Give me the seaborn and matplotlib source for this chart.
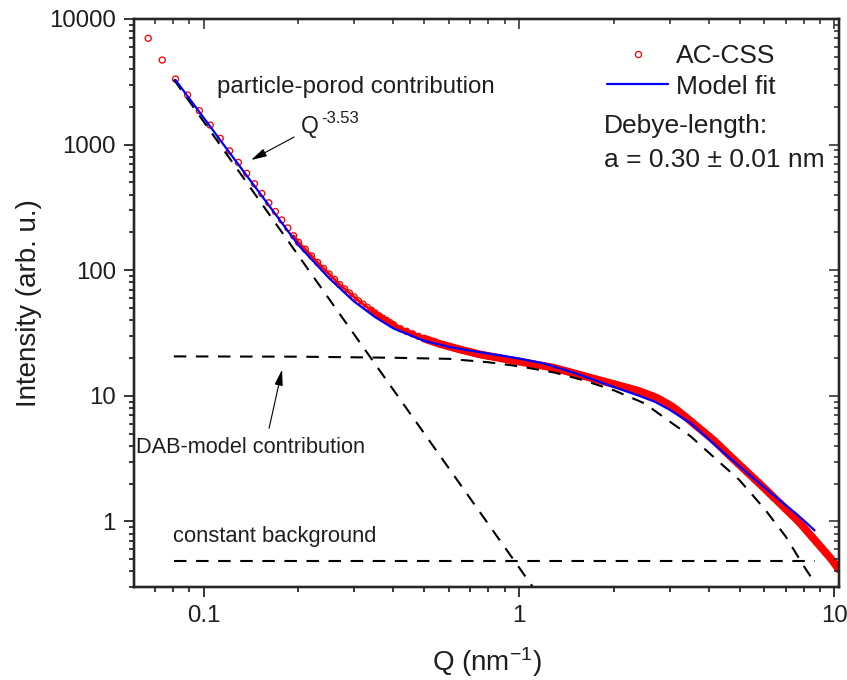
import matplotlib
matplotlib.use("Agg")
import matplotlib.pyplot as plt
import seaborn as sns
from matplotlib.lines import Line2D
from matplotlib.ticker import LogLocator, NullFormatter, FuncFormatter

# ---------------- data ----------------
# measured SAXS curve (AC-CSS)
q_data = [0.0668, 0.0740, 0.0815, 0.089, 0.097, 0.105, 0.113, 0.121, 0.129, 0.137,
          0.145, 0.153, 0.161, 0.169, 0.177, 0.185, 0.193,
          0.20, 0.21, 0.22, 0.23, 0.24, 0.25, 0.26, 0.27, 0.28, 0.29, 0.30, 0.31,
          0.32, 0.33, 0.34, 0.35, 0.36, 0.37, 0.38, 0.39, 0.40,
          0.42, 0.44, 0.46, 0.48, 0.50, 0.52, 0.54, 0.56, 0.58, 0.60, 0.62, 0.64,
          0.66, 0.68, 0.70, 0.72, 0.74, 0.76, 0.78, 0.80,
          0.84, 0.88, 0.92, 0.96, 1.00, 1.04, 1.08, 1.12, 1.16, 1.20, 1.24, 1.28,
          1.32, 1.36, 1.40, 1.44, 1.48, 1.52, 1.56, 1.60,
          1.68, 1.76, 1.84, 1.92, 2.00, 2.08, 2.16, 2.24, 2.32, 2.40, 2.48, 2.56,
          2.64, 2.72, 2.80, 2.88, 2.96, 3.04, 3.12, 3.20,
          3.36, 3.52, 3.68, 3.84, 4.00, 4.16, 4.32, 4.48, 4.64, 4.80, 4.96, 5.12,
          5.28, 5.44, 5.60, 5.76, 5.92, 6.08, 6.24, 6.40,
          6.7, 7.0, 7.3, 7.6, 7.9, 8.2, 8.5, 8.8, 9.1, 9.4, 9.7, 10.0, 10.3]
i_data = [7020, 4710, 3325, 2481, 1863, 1431, 1120, 891, 721, 590,
          488, 408, 344, 293, 251, 217, 188,
          166.9, 147.0, 129.8, 115.4, 103.5, 93.4, 84.6, 76.9, 71.0, 65.9, 61.3, 57.0,
          53.7, 50.8, 48.2, 45.7, 43.4, 41.5, 39.9, 38.3, 36.9,
          34.25, 32.66, 31.13, 29.74, 28.61, 27.63, 26.79, 25.92, 25.30, 24.71, 24.17, 23.64,
          23.17, 22.75, 22.34, 21.93, 21.58, 21.26, 20.99, 20.76,
          20.30, 19.86, 19.46, 19.11, 18.76, 18.42, 18.12, 17.82, 17.53, 17.28, 17.02, 16.78,
          16.44, 16.12, 15.79, 15.50, 15.22, 14.94, 14.67, 14.43,
          13.94, 13.51, 13.12, 12.74, 12.40, 12.06, 11.75, 11.46, 11.19, 10.92, 10.58, 10.28,
          9.98, 9.69, 9.33, 8.96, 8.62, 8.29, 7.92, 7.54,
          6.84, 6.22, 5.66, 5.19, 4.76, 4.38, 4.00, 3.665, 3.369, 3.108, 2.872, 2.669,
          2.480, 2.313, 2.158, 2.020, 1.890, 1.776, 1.665, 1.565,
          1.402, 1.258, 1.135, 1.030, 0.928, 0.832, 0.751, 0.679, 0.616, 0.561, 0.513, 0.464, 0.417]

# model fit
q_fit = [0.0815, 0.1, 0.12, 0.15, 0.2, 0.25, 0.3, 0.35, 0.4, 0.5, 0.6, 0.7, 0.8, 1.0,
         1.2, 1.5, 1.8, 2.1, 2.4, 2.7, 3.0, 3.5, 4.0, 4.5, 5.0, 5.5, 6.0, 6.5, 7.0,
         7.5, 8.0, 8.65]
i_fit = [3266, 1641, 885, 418, 158, 86.5, 56.4, 42.3, 34.4, 27.4, 24.5, 22.9, 21.7, 19.8,
         18.1, 15.2, 12.9, 11.25, 10.02, 8.95, 7.76, 6.05, 4.50, 3.45, 2.75, 2.24, 1.86,
         1.574, 1.351, 1.173, 1.017, 0.848]

# particle-porod contribution (power law Q^-3.53)
q_porod = [0.0805, 1.107]
i_porod = [3300, 0.30]

# DAB-model contribution
q_dab = [0.0805, 0.2, 0.4, 0.6, 0.8, 1.0, 1.3, 1.6, 2.0, 2.5, 3.0, 3.5, 4.0, 5.0,
         6.0, 7.0, 8.0, 8.65]
i_dab = [20.6, 20.5, 20.1, 19.7, 18.5, 17.2, 15.3, 13.3, 11.06, 8.71, 6.26, 4.76, 3.52,
         2.13, 1.26, 0.76, 0.44, 0.326]

# constant background
q_bg = [0.0805, 8.65]
i_bg = [0.48, 0.48]

# ---------------- style ----------------
sns.set_style("ticks")
plt.rcParams["font.family"] = ["Liberation Sans", "DejaVu Sans"]
plt.rcParams["mathtext.default"] = "regular"

RED = "#ff0000"
BLUE = "#0000ff"
TC = "#1e1e1e"

fig = plt.figure(figsize=(8.47, 6.80), dpi=100)
ax = fig.add_axes([0.1582, 0.1363, 0.8329, 0.8358])
ax.set_xscale("log")
ax.set_yscale("log")

# measured data: where the points crowd together they merge into a band
segments = [(0.193, 0.34, 2.0), (0.34, 0.50, 3.6), (0.50, 10.3, 5.6)]
for q0, q1, w in segments:
    a, b = q_data.index(q0), q_data.index(q1)
    sns.lineplot(x=q_data[a:b + 1], y=i_data[a:b + 1], ax=ax, color=RED, lw=w,
                 estimator=None, sort=False, zorder=2, legend=False)
    ax.lines[-1].set_solid_capstyle("round")
    ax.lines[-1].set_solid_joinstyle("round")
sns.scatterplot(x=q_data, y=i_data, ax=ax, marker="o", s=19, linewidth=0.95,
                zorder=2.5, legend=False)
pts = ax.collections[-1]
pts.set_facecolor("none")
pts.set_edgecolor(RED)

# dashed model contributions
for qq, ii in [(q_porod, i_porod), (q_dab, i_dab), (q_bg, i_bg)]:
    sns.lineplot(x=qq, y=ii, ax=ax, color="black", lw=1.5, estimator=None,
                 sort=False, zorder=3, legend=False)
    ax.lines[-1].set_dashes([6, 4.6])

# model fit
sns.lineplot(x=q_fit, y=i_fit, ax=ax, color=BLUE, lw=1.6, estimator=None,
             sort=False, zorder=4, legend=False)

ax.set_xlim(0.0602, 10.37)
ax.set_ylim(0.299, 10000)

fmt = FuncFormatter(lambda v, p: f"{v:g}")
ax.xaxis.set_major_locator(LogLocator(base=10, numticks=10))
ax.xaxis.set_minor_locator(LogLocator(base=10, subs=range(2, 10), numticks=20))
ax.xaxis.set_major_formatter(fmt)
ax.xaxis.set_minor_formatter(NullFormatter())
ax.yaxis.set_major_locator(LogLocator(base=10, numticks=10))
ax.yaxis.set_minor_locator(LogLocator(base=10, subs=range(2, 10), numticks=20))
ax.yaxis.set_major_formatter(fmt)
ax.yaxis.set_minor_formatter(NullFormatter())
ax.tick_params(which="major", direction="out", length=7, width=1.1,
               labelsize=17.3, color="black", labelcolor=TC, pad=6)
ax.tick_params(which="minor", direction="out", length=3.6, width=1.1, color="black")
for sp in ax.spines.values():
    sp.set_linewidth(1.6)
    sp.set_color("black")

# inward ticks on top and right
axt = ax.twiny()
axt.set_xscale("log")
axt.set_xlim(ax.get_xlim())
axt.xaxis.set_major_locator(LogLocator(base=10, numticks=10))
axt.xaxis.set_minor_locator(LogLocator(base=10, subs=range(2, 10), numticks=20))
axt.xaxis.set_major_formatter(NullFormatter())
axt.xaxis.set_minor_formatter(NullFormatter())
axt.tick_params(which="major", direction="in", length=7, width=1.1, labeltop=False)
axt.tick_params(which="minor", direction="in", length=3.6, width=1.1)
axr = ax.twinx()
axr.set_yscale("log")
axr.set_ylim(ax.get_ylim())
axr.yaxis.set_major_locator(LogLocator(base=10, numticks=10))
axr.yaxis.set_minor_locator(LogLocator(base=10, subs=range(2, 10), numticks=20))
axr.yaxis.set_major_formatter(NullFormatter())
axr.yaxis.set_minor_formatter(NullFormatter())
axr.tick_params(which="major", direction="in", length=7, width=1.1, labelright=False)
axr.tick_params(which="minor", direction="in", length=3.6, width=1.1)
for a in (axt, axr):
    for sp in a.spines.values():
        sp.set_linewidth(1.6)
    a.grid(False)

ax.set_xlabel("Q (nm$^{-1}$)", fontsize=20, color=TC, labelpad=13)
ax.set_ylabel("Intensity (arb. u.)", fontsize=20, color=TC, labelpad=5)

# legend
handles = [Line2D([], [], ls="none", marker="o", mfc="none", mec=RED, ms=4.4, mew=0.9),
           Line2D([], [], color=BLUE, lw=1.6)]
ax.legend(handles, ["AC-CSS", "Model fit"], loc="upper left",
          bbox_to_anchor=(0.671, 0.956), frameon=False, fontsize=19,
          handlelength=2.3, handletextpad=0.3, borderpad=0, borderaxespad=0,
          labelspacing=0.25)
for t in ax.get_legend().get_texts():
    t.set_color(TC)

ax.text(0.6667, 0.7993, "Debye-length:", transform=ax.transAxes, fontsize=19,
        color=TC, va="baseline", ha="left")
ax.text(0.6667, 0.7395, "a = 0.30 \u00b1 0.01 nm", transform=ax.transAxes,
        fontsize=19, color=TC, va="baseline", ha="left")

ax.text(0.1177, 0.8697, "particle-porod contribution", transform=ax.transAxes,
        fontsize=17.3, color=TC, va="baseline", ha="left")
ax.text(0.2369, 0.7993, "Q", transform=ax.transAxes,
        fontsize=16.5, color=TC, va="baseline", ha="left")
ax.text(0.2660, 0.8169, "-3.53", transform=ax.transAxes,
        fontsize=12, color=TC, va="baseline", ha="left")
ax.text(0.0028, 0.2359, "DAB-model contribution", transform=ax.transAxes,
        fontsize=15.7, color=TC, va="baseline", ha="left")
ax.text(0.0553, 0.0798, "constant background", transform=ax.transAxes,
        fontsize=15.8, color=TC, va="baseline", ha="left")

arrow = dict(arrowstyle="-|>,head_length=0.95,head_width=0.25", color="black",
             lw=0.8, mutation_scale=10, shrinkA=0, shrinkB=0)
ax.annotate("", xy=(0.1660, 0.7518), xytext=(0.2270, 0.7923),
            xycoords="axes fraction", textcoords="axes fraction", arrowprops=arrow)
ax.annotate("", xy=(0.2099, 0.3829), xytext=(0.1915, 0.2799),
            xycoords="axes fraction", textcoords="axes fraction", arrowprops=arrow)

fig.savefig("out.png", dpi=100)
